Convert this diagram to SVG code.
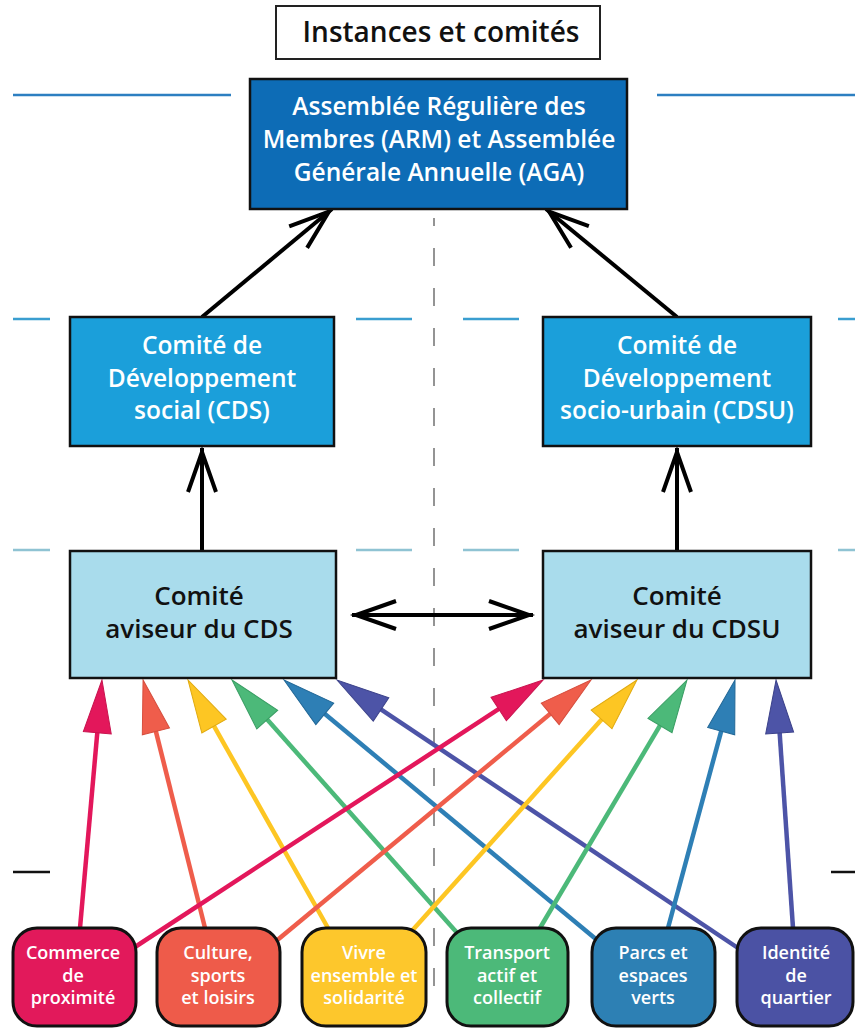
<svg xmlns="http://www.w3.org/2000/svg" width="855" height="1028" viewBox="0 0 855 1028">
<style>
  text { font-family: "Open Sans", "Liberation Sans", sans-serif; text-anchor: middle; font-weight: 600; }
  .t-title { font-size: 28px; fill: #111; }
  .t-main { font-size: 24.5px; fill: #ffffff; }
  .t-dark { font-size: 26px; fill: #111111; }
  .t-leaf { font-size: 18px; fill: #ffffff; }
  .box { stroke: #111; stroke-width: 2.5; }
  .leaf { stroke: #111; stroke-width: 3; }
  .blk { stroke: #000; stroke-width: 4; fill: none; }
  .col { stroke-width: 4.5; fill: none; }
  .guide { stroke-width: 2.5; fill: none; }
</style>
<defs>
  <marker id="chev" markerUnits="userSpaceOnUse" viewBox="-50 -20 60 40" markerWidth="60" markerHeight="40" refX="0" refY="0" orient="auto-start-reverse" overflow="visible">
    <path d="M-44,-14 L-4,0 L-44,14" fill="none" stroke="#000" stroke-width="4"/>
  </marker>
  <marker id="a-pink" markerUnits="userSpaceOnUse" viewBox="-40 -20 70 40" markerWidth="70" markerHeight="40" refX="0" refY="0" orient="auto" overflow="visible">
    <path d="M20,0 L-33,-14 L-33,14 Z" fill="#e3175b" stroke="#c8144f" stroke-width="1"/>
  </marker>
  <marker id="a-orange" markerUnits="userSpaceOnUse" viewBox="-40 -20 70 40" markerWidth="70" markerHeight="40" refX="0" refY="0" orient="auto" overflow="visible">
    <path d="M20,0 L-33,-14 L-33,14 Z" fill="#ef5d4b" stroke="#d64e3e" stroke-width="1"/>
  </marker>
  <marker id="a-yellow" markerUnits="userSpaceOnUse" viewBox="-40 -20 70 40" markerWidth="70" markerHeight="40" refX="0" refY="0" orient="auto" overflow="visible">
    <path d="M20,0 L-33,-14 L-33,14 Z" fill="#fdc623" stroke="#e0aa10" stroke-width="1"/>
  </marker>
  <marker id="a-green" markerUnits="userSpaceOnUse" viewBox="-40 -20 70 40" markerWidth="70" markerHeight="40" refX="0" refY="0" orient="auto" overflow="visible">
    <path d="M20,0 L-33,-14 L-33,14 Z" fill="#4cb979" stroke="#3a9e64" stroke-width="1"/>
  </marker>
  <marker id="a-blue" markerUnits="userSpaceOnUse" viewBox="-40 -20 70 40" markerWidth="70" markerHeight="40" refX="0" refY="0" orient="auto" overflow="visible">
    <path d="M20,0 L-33,-14 L-33,14 Z" fill="#2e7fb5" stroke="#236897" stroke-width="1"/>
  </marker>
  <marker id="a-indigo" markerUnits="userSpaceOnUse" viewBox="-40 -20 70 40" markerWidth="70" markerHeight="40" refX="0" refY="0" orient="auto" overflow="visible">
    <path d="M20,0 L-33,-14 L-33,14 Z" fill="#4d54a7" stroke="#3c428a" stroke-width="1"/>
  </marker>
</defs>

<g id="guides">
  <line class="guide" x1="13" y1="95" x2="231" y2="95" stroke="#2d7fc1"/>
  <line class="guide" x1="657" y1="95" x2="855" y2="95" stroke="#2d7fc1"/>
  <g stroke="#3a9ed0">
    <line class="guide" x1="13" y1="319" x2="50" y2="319"/>
    <line class="guide" x1="356" y1="319" x2="412" y2="319"/>
    <line class="guide" x1="463" y1="319" x2="519" y2="319"/>
    <line class="guide" x1="838" y1="319" x2="855" y2="319"/>
  </g>
  <g stroke="#8fc3d3">
    <line class="guide" x1="13" y1="550" x2="50" y2="550"/>
    <line class="guide" x1="356" y1="550" x2="412" y2="550"/>
    <line class="guide" x1="463" y1="550" x2="519" y2="550"/>
    <line class="guide" x1="838" y1="550" x2="855" y2="550"/>
  </g>
  <g stroke="#111">
    <line x1="13" y1="872" x2="50" y2="872" stroke-width="2.5"/>
    <line x1="831" y1="872" x2="855" y2="872" stroke-width="2.5"/>
  </g>
  <line x1="434" y1="218" x2="434" y2="1000" stroke="#7a7a7a" stroke-width="1.6" stroke-dasharray="18 22" stroke-dashoffset="10"/>
</g>

<g id="connectors">
  <line class="blk" x1="202" y1="317" x2="332" y2="209" marker-end="url(#chev)"/>
  <line class="blk" x1="677" y1="317" x2="546" y2="209" marker-end="url(#chev)"/>
  <line class="blk" x1="202" y1="550" x2="202" y2="448" marker-end="url(#chev)"/>
  <line class="blk" x1="677" y1="550" x2="677" y2="448" marker-end="url(#chev)"/>
  <line class="blk" x1="352" y1="615" x2="533" y2="615" marker-start="url(#chev)" marker-end="url(#chev)"/>

  <line class="col" stroke="#e3175b" x1="80" y1="928" x2="100.2" y2="699.9" marker-end="url(#a-pink)"/>
  <line class="col" stroke="#ef5d4b" x1="205" y1="928" x2="147.9" y2="699.4" marker-end="url(#a-orange)"/>
  <line class="col" stroke="#fdc623" x1="328" y1="928" x2="197.8" y2="697.4" marker-end="url(#a-yellow)"/>
  <line class="col" stroke="#4cb979" x1="459" y1="935" x2="245.3" y2="694.9" marker-end="url(#a-green)"/>
  <line class="col" stroke="#2e7fb5" x1="597" y1="940" x2="299.4" y2="692.8" marker-end="url(#a-blue)"/>
  <line class="col" stroke="#4d54a7" x1="738" y1="948" x2="353.6" y2="691.1" marker-end="url(#a-indigo)"/>

  <line class="col" stroke="#e3175b" x1="135" y1="947" x2="526.3" y2="691.0" marker-end="url(#a-pink)"/>
  <line class="col" stroke="#ef5d4b" x1="275" y1="942" x2="575.6" y2="692.8" marker-end="url(#a-orange)"/>
  <line class="col" stroke="#fdc623" x1="410" y1="933" x2="623.6" y2="694.9" marker-end="url(#a-yellow)"/>
  <line class="col" stroke="#4cb979" x1="540" y1="928" x2="676.8" y2="697.2" marker-end="url(#a-green)"/>
  <line class="col" stroke="#2e7fb5" x1="668" y1="928" x2="729.8" y2="699.3" marker-end="url(#a-blue)"/>
  <line class="col" stroke="#4d54a7" x1="793" y1="928" x2="777.4" y2="700.0" marker-end="url(#a-indigo)"/>
</g>

<g id="title">
  <rect x="276" y="6" width="324" height="53" fill="#fff" stroke="#222" stroke-width="2"/>
  <text class="t-title" x="441" y="42">Instances et comités</text>
</g>

<g id="aga">
  <rect class="box" x="250" y="79" width="377" height="130" fill="#0d6cb6"/>
  <text class="t-main" x="439" y="115">Assemblée Régulière des</text>
  <text class="t-main" x="439" y="148">Membres (ARM) et Assemblée</text>
  <text class="t-main" x="439" y="181">Générale Annuelle (AGA)</text>
</g>

<g id="cds">
  <rect class="box" x="70" y="317" width="264" height="129" fill="#1b9fda"/>
  <text class="t-main" x="202" y="354">Comité de</text>
  <text class="t-main" x="202" y="387">Développement</text>
  <text class="t-main" x="202" y="419">social (CDS)</text>
</g>

<g id="cdsu">
  <rect class="box" x="543" y="317" width="268" height="129" fill="#1b9fda"/>
  <text class="t-main" x="677" y="354">Comité de</text>
  <text class="t-main" x="677" y="387">Développement</text>
  <text class="t-main" x="677" y="419">socio-urbain (CDSU)</text>
</g>

<g id="aviseur-cds">
  <rect class="box" x="70" y="551" width="266" height="127" fill="#a9dcec"/>
  <text class="t-dark" x="199" y="605">Comité</text>
  <text class="t-dark" x="199" y="638">aviseur du CDS</text>
</g>

<g id="aviseur-cdsu">
  <rect class="box" x="543" y="551" width="268" height="127" fill="#a9dcec"/>
  <text class="t-dark" x="677" y="605">Comité</text>
  <text class="t-dark" x="677" y="638">aviseur du CDSU</text>
</g>

<g id="commerce">
  <rect class="leaf" x="13" y="928" width="123" height="98" rx="24" fill="#e2195b"/>
  <text class="t-leaf" x="73" y="959">Commerce</text>
  <text class="t-leaf" x="73" y="982">de</text>
  <text class="t-leaf" x="73" y="1004">proximité</text>
</g>

<g id="culture">
  <rect class="leaf" x="157" y="928" width="123" height="98" rx="24" fill="#ee5b4a"/>
  <text class="t-leaf" x="218" y="959">Culture,</text>
  <text class="t-leaf" x="218" y="982">sports</text>
  <text class="t-leaf" x="218" y="1004">et loisirs</text>
</g>

<g id="vivre">
  <rect class="leaf" x="302" y="928" width="124" height="98" rx="24" fill="#fdc72c"/>
  <text class="t-leaf" x="364" y="959">Vivre</text>
  <text class="t-leaf" x="364" y="982">ensemble et</text>
  <text class="t-leaf" x="364" y="1004">solidarité</text>
</g>

<g id="transport">
  <rect class="leaf" x="447" y="928" width="121" height="98" rx="24" fill="#4cb979"/>
  <text class="t-leaf" x="507" y="959">Transport</text>
  <text class="t-leaf" x="507" y="982">actif et</text>
  <text class="t-leaf" x="507" y="1004">collectif</text>
</g>

<g id="parcs">
  <rect class="leaf" x="592" y="928" width="123" height="98" rx="24" fill="#2d80b4"/>
  <text class="t-leaf" x="653" y="959">Parcs et</text>
  <text class="t-leaf" x="653" y="982">espaces</text>
  <text class="t-leaf" x="653" y="1004">verts</text>
</g>

<g id="identite">
  <rect class="leaf" x="737" y="928" width="116" height="98" rx="24" fill="#4b52a4"/>
  <text class="t-leaf" x="796" y="959">Identité</text>
  <text class="t-leaf" x="796" y="982">de</text>
  <text class="t-leaf" x="796" y="1004">quartier</text>
</g>
</svg>
